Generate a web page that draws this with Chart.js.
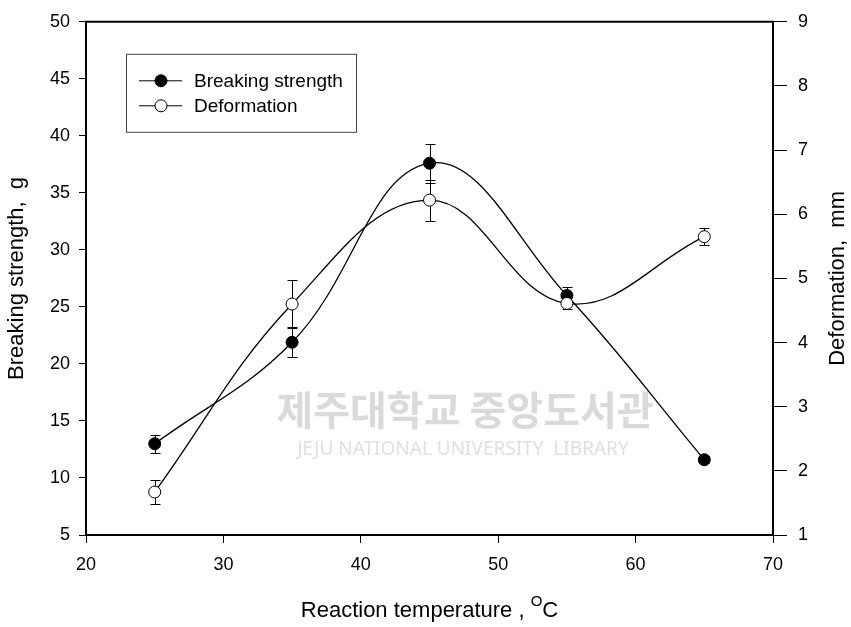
<!DOCTYPE html>
<html>
<head>
<meta charset="utf-8">
<script src="https://cdn.jsdelivr.net/npm/chart.js@4"></script>
<style>
  html, body { margin: 0; padding: 0; background: #fff; }
  #wrap { width: 851px; height: 627px; }
</style>
</head>
<body>
<div id="wrap"><canvas id="chart" width="851" height="627"></canvas></div>
<script>
// --------------------
// Data
// --------------------
const temperatures = [25, 35, 45, 55, 65];
const breakingStrength = [13.0, 21.9, 37.6, 26.0, 11.6];
const breakingStrengthErr = [0.8, 1.3, 1.7, 0.75, 0.3];
const deformation = [1.67, 4.6, 6.22, 4.61, 5.65];
const deformationErr = [0.18, 0.38, 0.32, 0.08, 0.13];

const FONT = "'Liberation Sans', Arial, sans-serif";

function toPoints(xs, ys) {
    return xs.map((x, i) => ({ x: x, y: ys[i] }));
}

// error bars, drawn before the lines so markers sit on top
const errorBars = {
    id: 'errorBars',
    beforeDatasetsDraw(chart) {
        const ctx = chart.ctx;
        ctx.save();
        ctx.strokeStyle = '#000';
        ctx.lineWidth = 1;
        chart.data.datasets.forEach((ds) => {
            const xs = chart.scales.x;
            const ys = chart.scales[ds.yAxisID];
            ds.data.forEach((p, i) => {
                const e = ds.errors[i];
                const px = Math.round(xs.getPixelForValue(p.x)) + 0.5;
                const top = Math.round(ys.getPixelForValue(p.y + e)) + 0.5;
                const bot = Math.round(ys.getPixelForValue(p.y - e)) + 0.5;
                ctx.beginPath();
                ctx.moveTo(px, top); ctx.lineTo(px, bot);
                ctx.moveTo(px - 5, top); ctx.lineTo(px + 5, top);
                ctx.moveTo(px - 5, bot); ctx.lineTo(px + 5, bot);
                ctx.stroke();
            });
        });
        ctx.restore();
    }
};

// watermark, frame top line, legend, x title and right title
const decorations = {
    id: 'decorations',
    beforeDatasetsDraw(chart) {
        const ctx = chart.ctx;
        ctx.save();
        ctx.textAlign = 'center';
        ctx.textBaseline = 'middle';
        ctx.fillStyle = '#dadada';
        ctx.font = "bold 40px 'Noto Sans CJK KR', sans-serif";
        ctx.fillText('제주대학교 중앙도서관', 465, 410, 386);
        ctx.fillStyle = '#e0e0e0';
        ctx.font = "19px 'Noto Sans', sans-serif";
        ctx.fillText('JEJU NATIONAL UNIVERSITY  LIBRARY', 463, 450, 390);
        ctx.restore();
    },
    afterDraw(chart) {
        const ctx = chart.ctx;
        const a = chart.chartArea;
        ctx.save();
        // top frame line
        ctx.strokeStyle = '#000';
        ctx.lineWidth = 2;
        ctx.beginPath();
        ctx.moveTo(a.left - 1, a.top);
        ctx.lineTo(a.right + 1, a.top);
        ctx.stroke();

        // legend
        const bx = a.left + 40, by = a.top + 32, bw = 230, bh = 78;
        ctx.lineWidth = 1;
        ctx.strokeStyle = '#444';
        ctx.strokeRect(bx + 0.5, by + 0.5, bw, bh);
        ctx.font = '19px ' + FONT;
        ctx.textAlign = 'left';
        ctx.textBaseline = 'middle';
        chart.data.datasets.forEach((ds, i) => {
            const y = by + 27 + i * 25;
            ctx.strokeStyle = '#000';
            ctx.beginPath();
            ctx.moveTo(bx + 13, y); ctx.lineTo(bx + 56, y);
            ctx.stroke();
            ctx.beginPath();
            ctx.arc(bx + 35, y, 6, 0, Math.PI * 2);
            ctx.fillStyle = ds.pointBackgroundColor;
            ctx.fill();
            ctx.stroke();
            ctx.fillStyle = '#000';
            ctx.fillText(ds.label, bx + 68, y + 1);
        });

        // x axis title with superscript O
        const main = 'Reaction temperature , ';
        ctx.font = '22px ' + FONT;
        const w1 = ctx.measureText(main).width;
        ctx.font = '15px ' + FONT;
        const w2 = ctx.measureText('O').width;
        ctx.font = '22px ' + FONT;
        const w3 = ctx.measureText('C').width;
        let x = (a.left + a.right) / 2 - (w1 + w2 + w3) / 2;
        const ty = 611;
        ctx.fillText(main, x, ty);
        x += w1;
        ctx.font = '15px ' + FONT;
        ctx.fillText('O', x, ty - 9);
        x += w2;
        ctx.font = '22px ' + FONT;
        ctx.fillText('C', x, ty);

        // right title, reading bottom to top
        ctx.translate(838, (a.top + a.bottom) / 2);
        ctx.rotate(-Math.PI / 2);
        ctx.textAlign = 'center';
        ctx.font = '22px ' + FONT;
        ctx.fillText('Deformation,  mm', 0, 0);
        ctx.restore();
    }
};

const tickFont = { family: FONT, size: 18 };
const titleFont = { family: FONT, size: 22 };

const config = {
    type: 'line',
    data: {
        datasets: [{
            label: 'Breaking strength',
            data: toPoints(temperatures, breakingStrength),
            errors: breakingStrengthErr,
            yAxisID: 'y',
            order: 1,
            borderColor: '#000',
            borderWidth: 1.3,
            tension: 0.4,
            pointRadius: 6,
            pointBackgroundColor: '#000',
            pointBorderColor: '#000',
            pointBorderWidth: 1,
        }, {
            label: 'Deformation',
            data: toPoints(temperatures, deformation),
            errors: deformationErr,
            yAxisID: 'y1',
            order: 0,
            borderColor: '#000',
            borderWidth: 1.3,
            tension: 0.4,
            pointRadius: 6,
            pointBackgroundColor: '#fff',
            pointBorderColor: '#000',
            pointBorderWidth: 1,
        }]
    },
    options: {
        responsive: false,
        animation: false,
        layout: { padding: { top: 16, left: 0, right: 0, bottom: 0 } },
        plugins: {
            legend: { display: false },
            tooltip: { enabled: false },
        },
        scales: {
            x: {
                type: 'linear',
                min: 20, max: 70,
                ticks: { stepSize: 10, font: tickFont, color: '#000', padding: 11, maxRotation: 0 },
                grid: { drawOnChartArea: false, tickLength: 8, tickColor: '#000', lineWidth: 1 },
                border: { color: '#000', width: 2 },
                afterFit: (s) => { s.height = 92; },
            },
            y: {
                position: 'left',
                min: 5, max: 50,
                ticks: { stepSize: 5, font: tickFont, color: '#000', padding: 9 },
                grid: { drawOnChartArea: false, tickLength: 7, tickColor: '#000', lineWidth: 1 },
                border: { color: '#000', width: 2 },
                title: { display: true, text: 'Breaking strength,  g', font: titleFont, color: '#000', padding: { top: 4, bottom: 0 } },
                afterFit: (s) => { s.width = 86; },
            },
            y1: {
                position: 'right',
                min: 1, max: 9,
                ticks: { stepSize: 1, font: tickFont, color: '#000', padding: 11 },
                grid: { drawOnChartArea: false, tickLength: 14, tickColor: '#000', lineWidth: 1 },
                border: { color: '#000', width: 2 },
                afterFit: (s) => { s.width = 78; },
            },
        },
    },
    plugins: [errorBars, decorations],
};

new Chart(document.getElementById('chart'), config);
</script>
</body>
</html>
